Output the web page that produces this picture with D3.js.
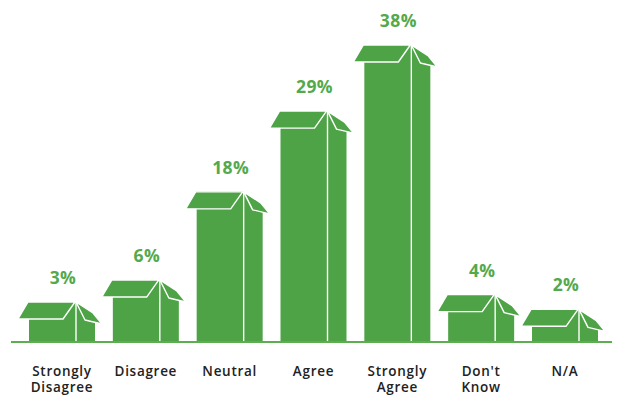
<!DOCTYPE html>
<html><head><meta charset="utf-8">
<script src="https://cdn.jsdelivr.net/npm/d3@7"></script>
<style>html,body{margin:0;padding:0;background:#fff;}</style>
</head><body>
<svg id="chart" width="617" height="395"></svg>
<script>
const categories = ["Strongly Disagree","Disagree","Neutral","Agree","Strongly Agree","Don't Know","N/A"];
const labelLines = [["Strongly","Disagree"],["Disagree"],["Neutral"],["Agree"],["Strongly","Agree"],["Don't","Know"],["N/A"]];
const values = [3,6,18,29,38,4,2];
const valueLabels = ["3%","6%","18%","29%","38%","4%","2%"];

const green = "#4ea347";
const textGreen = "#53a94b";
const svg = d3.select("#chart");
const baseY = 341;

const x = d3.scalePoint().domain(categories).range([62, 565]);
const y = d3.scaleLinear().domain([0, 38]).range([baseY, 62]);

// baseline
svg.append("line").attr("x1", 11).attr("x2", 612).attr("y1", baseY + 1).attr("y2", baseY + 1)
  .attr("stroke", "#5cae50").attr("stroke-width", 2);

const bodyW = 66, frontW = 47;
const g = svg.selectAll("g.box").data(values).join("g").attr("class", "box");
g.each(function(v, i) {
  const sel = d3.select(this);
  const cx = x(categories[i]);
  const L = cx - bodyW / 2, R = L + bodyW, D = L + frontW, T = y(v);
  const line = d3.line();
  sel.append("path").attr("d", line([[L, baseY], [L, T - 17], [D, T - 17], [D + 9, T + 1], [R, T + 1], [R, baseY]]))
    .attr("fill", green);
  sel.append("path").attr("d", line([[L - 1, T - 17], [D - 1, T - 17], [D - 13, T], [L - 11, T]]) + "Z")
    .attr("fill", green).attr("stroke", "#fff").attr("stroke-width", 1.4).attr("stroke-linejoin", "round");
  sel.append("path").attr("d", line([[D, T - 17], [R - 2, T - 6], [R + 7, T + 5], [D + 9, T + 1]]) + "Z")
    .attr("fill", green).attr("stroke", "#fff").attr("stroke-width", 1.4).attr("stroke-linejoin", "round");
  sel.append("line").attr("x1", D).attr("x2", D).attr("y1", T - 17).attr("y2", baseY)
    .attr("stroke", "#fff").attr("stroke-width", 1.4);
  sel.append("text").attr("x", cx + 1).attr("y", T - 35).attr("text-anchor", "middle")
    .attr("font-family", "'Open Sans', sans-serif").attr("font-weight", 700).attr("font-size", 17.5)
    .attr("letter-spacing", 0.4).attr("fill", textGreen).text(valueLabels[i]);
  const t = sel.append("text").attr("text-anchor", "middle")
    .attr("font-family", "'Open Sans', sans-serif").attr("font-weight", 600).attr("font-size", 13.5)
    .attr("letter-spacing", 0.7).attr("fill", "#222");
  labelLines[i].forEach((s, k) => {
    t.append("tspan").attr("x", cx).attr("y", 376 + k * 16).text(s);
  });
});
</script>
</body></html>
